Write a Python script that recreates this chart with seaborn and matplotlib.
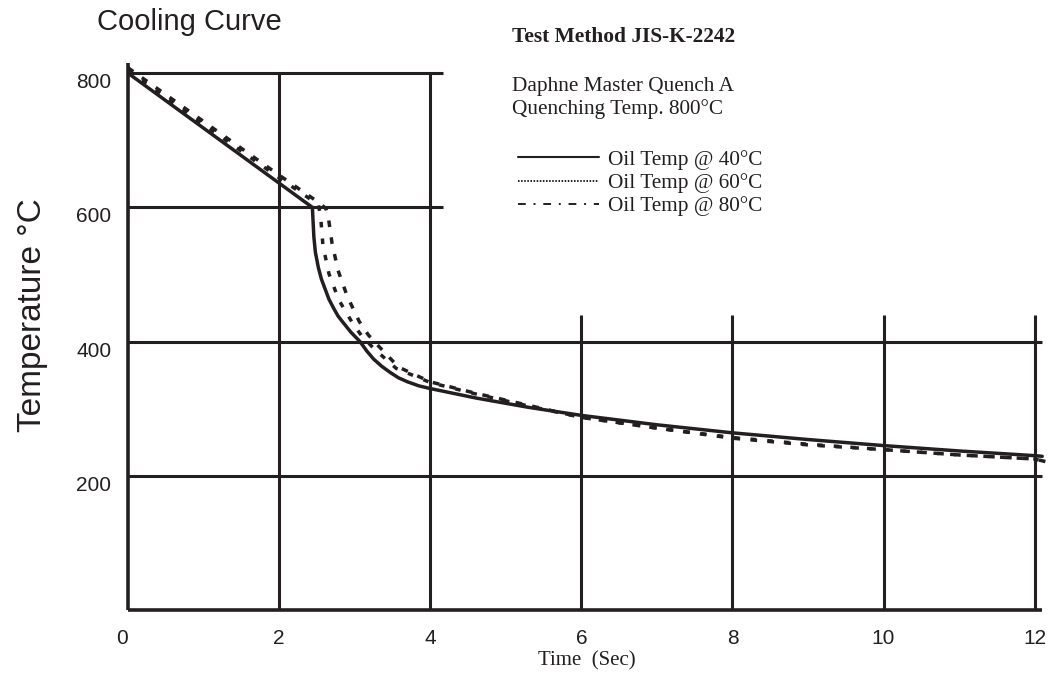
# Cooling curves for Daphne Master Quench A, JIS-K-2242 test, three oil temperatures.
import matplotlib

matplotlib.use("Agg")
import matplotlib.pyplot as plt
import pandas as pd
import seaborn as sns
from matplotlib.lines import Line2D

# curve values (time in s, temperature in degC)
t40 = [0, 2.44, 2.46, 2.48, 2.52, 2.56, 2.61, 2.66, 2.72, 2.78, 2.85, 2.95, 3.07, 3.16,
       3.25, 3.36, 3.47, 3.58, 3.7, 3.85, 4.0, 4.6, 5.3, 6.0, 7.0, 8.0, 9.0, 10.0,
       11.0, 12.0, 12.1]
temp40 = [800, 600, 556, 533, 510, 493, 478, 463, 450, 438, 428, 414, 400, 386,
          374, 363, 354, 346, 340, 334, 330, 316, 302, 290, 276, 264, 254, 245,
          237, 230, 229]

t60 = [0, 2.0, 2.52, 2.55, 2.58, 2.66, 2.79, 2.98, 3.09, 3.25, 3.55, 4.0, 4.6, 5.3,
       6.0, 7.0, 8.0, 9.0, 10.0, 11.0, 12.0, 12.1]
temp60 = [803, 644, 604, 586, 543, 501, 462, 426, 409, 390, 360, 339, 322, 304,
          287, 271, 257, 247, 239, 231, 225, 222]

t80 = [0, 2.0, 2.54, 2.62, 2.65, 2.70, 2.78, 2.90, 3.06, 3.18, 3.31, 3.58, 4.0, 4.6,
       5.3, 6.0, 7.0, 8.0, 9.0, 10.0, 11.0, 12.0, 12.15]
temp80 = [808, 648, 606, 598, 586, 547, 506, 468, 430, 410, 394, 362, 340, 323,
          305, 287, 271, 256, 246, 239, 231, 225, 221]

series = ["Oil Temp @ 40°C", "Oil Temp @ 60°C", "Oil Temp @ 80°C"]
xticks = [0, 2, 4, 6, 8, 10, 12]
yticks = [200, 400, 600, 800]

ink = "#231f20"
serif = ["Liberation Serif", "DejaVu Serif"]

curves = pd.concat([
    pd.DataFrame({"time": t, "temp": T, "oil": name})
    for name, t, T in zip(series, [t40, t60, t80], [temp40, temp60, temp80])
])

sns.set_theme(style="white")
plt.rcParams["font.family"] = ["Liberation Sans", "DejaVu Sans"]

fig = plt.figure(figsize=(10.54, 6.74), dpi=100)
ax = fig.add_axes([128 / 1054, 64 / 674, 918 / 1054, 557 / 674])

# stepped grid as drawn in the original sheet
grid = dict(color=ink, lw=2.2, clip_on=False, zorder=1)
ax.hlines([800, 600], 0, 4.17, **grid)
ax.hlines([400, 200], 0, 12.1, **grid)
ax.vlines([2, 4], 0, 800, **grid)
ax.vlines([6, 8, 10, 12], 0, 440, **grid)
ax.vlines(0, 0, 815, color=ink, lw=2.6, clip_on=False, zorder=1)
ax.hlines(0, 0, 12.1, color=ink, lw=2.6, clip_on=False, zorder=1)

sns.lineplot(data=curves, x="time", y="temp", style="oil",
             dashes={series[0]: "", series[1]: (1.6, 3.2), series[2]: (1.9, 3.0)},
             color=ink, linewidth=2.5, estimator=None, sort=False, legend=False,
             ax=ax, zorder=3)

ax.set_xlim(0, 12.15)
ax.set_ylim(0, 830)
ax.set_xticks(xticks)
ax.set_yticks(yticks)
ax.tick_params(length=0, labelsize=15, labelcolor=ink)
ax.tick_params(axis="y", pad=12)
ax.tick_params(axis="x", pad=14)
for lbl in ax.get_yticklabels():
    lbl.set_va("top")
ax.get_xticklabels()[0].set_ha("right")   # the "0" sits left of the corner
for s in ax.spines.values():
    s.set_visible(False)

ax.set_xlabel("Time  (Sec)", family=serif, fontsize=15, color=ink, labelpad=2)
ax.set_ylabel("Temperature °C", fontsize=24, color=ink)
ax.yaxis.set_label_coords(-0.087, 0.53)

fig.text(97 / 1054, 1 - 22 / 674, "Cooling Curve", va="center", fontsize=21, color=ink)
fig.text(512 / 1054, 1 - 37 / 674, "Test Method JIS-K-2242", va="center",
         family=serif, fontweight="bold", fontsize=15.4, color=ink)
fig.text(512 / 1054, 1 - 86 / 674, "Daphne Master Quench A", va="center",
         family=serif, fontsize=15.3, color=ink)
fig.text(512 / 1054, 1 - 109 / 674, "Quenching Temp. 800°C", va="center",
         family=serif, fontsize=15.3, color=ink)

handles = [
    Line2D([], [], color=ink, lw=1.5, ls="-"),
    Line2D([], [], color=ink, lw=1.4, ls=(0, (0.8, 0.8))),
    Line2D([], [], color=ink, lw=1.4, ls=(0, (4, 4, 1, 4))),
]
fig.legend(handles, series, loc="upper left", bbox_to_anchor=(518 / 1054, 1 - 150 / 674),
           frameon=False, prop={"family": serif, "size": 15.3}, handlelength=3.8,
           handletextpad=0.43, labelspacing=0.15, borderpad=0, borderaxespad=0,
           labelcolor=ink)

fig.savefig("out.png", dpi=100)
